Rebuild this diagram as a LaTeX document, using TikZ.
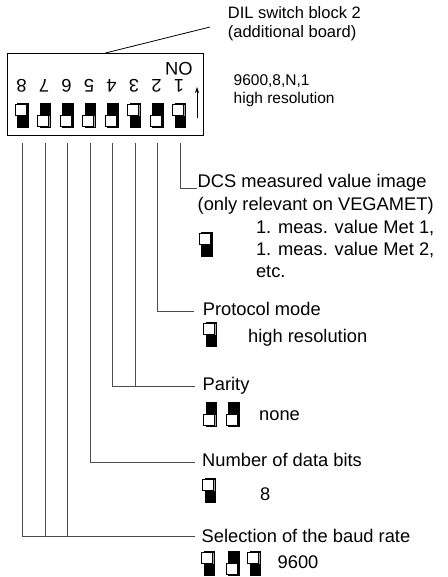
\documentclass[tikz,border=0pt]{standalone}
\usepackage{fontspec}
\setmainfont{Liberation Sans}
\usetikzlibrary{positioning, arrows.meta, calc}

\begin{document}
\begin{tikzpicture}[
    x=1pt, y=-1pt,
    font=\fontsize{18.3}{22}\selectfont,
    >=Stealth,
    % Styles (base west of a multi-line node is the last line)
    textlabel/.style={
        anchor=base west,
        inner sep=0pt,
        align=left
    },
    smalllabel/.style={
        anchor=base west,
        inner sep=0pt,
        align=left,
        font=\fontsize{15.5}{18}\selectfont
    },
    boardlabel/.style={
        anchor=base west,
        inner sep=0pt,
        align=left,
        font=\fontsize{16.5}{19}\selectfont
    },
    flipped/.style={
        rotate=180,
        inner sep=0pt
    },
    leader/.style={
        draw=black!70,
        line width=0.8pt
    },
    dipup/.pic={
        \filldraw[line width=0.6pt] (0,0) rectangle (10.5,24.5);
        \fill[black!35] (-1.2,2.2) rectangle (9.8,13.2);
        \filldraw[fill=white, line width=0.8pt] (-2.2,1.2) rectangle (8.8,12.2);
    },
    dipdown/.pic={
        \filldraw[line width=0.6pt] (0,0) rectangle (10.5,24.5);
        \fill[black!35] (-1.2,13.3) rectangle (9.8,24.3);
        \filldraw[fill=white, line width=0.8pt] (-2.2,12.3) rectangle (8.8,23.3);
    }
]
    \useasboundingbox (0,0) rectangle (447,577);

    % ================= SWITCH BLOCK =================
    \node[draw, line width=1pt, inner sep=0pt, minimum width=196pt, minimum height=82pt,
          anchor=north west] (block) at (7,53) {};

    \node[flipped] (on) at (179,69) {ON};
    \node[flipped] (n8) at (21.5,85.5) {8};
    \node[flipped] (n7) at (44,85.5) {7};
    \node[flipped] (n6) at (66.5,85.5) {6};
    \node[flipped] (n5) at (89,85.5) {5};
    \node[flipped] (n4) at (111.5,85.5) {4};
    \node[flipped] (n3) at (134,85.5) {3};
    \node[flipped] (n2) at (156.5,85.5) {2};
    \node[flipped] (n1) at (179,85.5) {1};

    \pic at (17.5,103) {dipup};
    \pic at (40,103) {dipdown};
    \pic at (62.5,103) {dipdown};
    \pic at (85,103) {dipdown};
    \pic at (107.5,103) {dipdown};
    \pic at (130,103) {dipup};
    \pic at (152.5,103) {dipdown};
    \pic at (175,103) {dipup};

    % direction arrow
    \coordinate (arrowtail) at (197,118);
    \coordinate (arrowtip) at (197,87);
    \draw[->, line width=0.8pt, >={Stealth[length=6pt, width=4pt]}] (arrowtail) -- (arrowtip);

    % ================= BOARD LABEL =================
    \node[boardlabel] (board) at (227.7,37.5) {DIL switch block 2\\(additional board)};
    \coordinate (boardlead) at (210,27);
    \draw[line width=0.8pt] (block.north) -- (boardlead);

    \node[smalllabel] (setting) at (233.5,104) {9600,8,N,1\\high resolution};

    % ================= LEGEND =================
    % DCS measured value image
    \node[textlabel] (dcs) at (197.5,210) {DCS measured value image\\(only relevant on VEGAMET)};
    \pic at (201.5,232) {dipup};
    \node[textlabel] (dcsval) at (255.8,277) {1. meas. value Met 1,\\1. meas. value Met 2,\\etc.};

    % Protocol mode
    \node[textlabel] (protocol) at (202.6,315) {Protocol mode};
    \pic at (206,322) {dipup};
    \node[textlabel] (protocolval) at (248,342) {high resolution};

    % Parity
    \node[textlabel] (parity) at (202.5,390) {Parity};
    \pic at (206,402) {dipdown};
    \pic at (228.5,402) {dipdown};
    \node[textlabel] (parityval) at (259,420) {none};

    % Number of data bits
    \node[textlabel] (databits) at (202,466.7) {Number of data bits};
    \pic at (205,478) {dipup};
    \node[textlabel] (databitsval) at (260,500) {8};

    % Selection of the baud rate
    \node[textlabel] (baud) at (201.5,542.5) {Selection of the baud rate};
    \pic at (204,551) {dipup};
    \pic at (228.5,551) {dipdown};
    \pic at (250,551) {dipup};
    \node[textlabel] (baudval) at (277.5,568) {9600};

    % ================= CONNECTIONS / LEADERS =================
    \coordinate (t1) at (180,143);
    \coordinate (t2) at (157.5,143);
    \coordinate (t3) at (135,143);
    \coordinate (t4) at (112.5,143);
    \coordinate (t5) at (90,143);
    \coordinate (t6) at (67.5,143);
    \coordinate (t7) at (45,143);
    \coordinate (t8) at (22.5,143);

    \coordinate (dcslead) at (197,188.5);
    \coordinate (protocollead) at (194,311);
    \coordinate (paritylead) at (195,386);
    \coordinate (databitslead) at (195,462.7);
    \coordinate (baudlead) at (195,536.7);

    \draw[leader] (t1) |- (dcslead);
    \draw[leader] (t2) |- (protocollead);
    \draw[leader] (t4) |- (paritylead);
    \draw[leader] (t3) -- (t3 |- paritylead);
    \draw[leader] (t5) |- (databitslead);
    \draw[leader] (t8) |- (baudlead);
    \draw[leader] (t7) -- (t7 |- baudlead);
    \draw[leader] (t6) -- (t6 |- baudlead);

\end{tikzpicture}
\end{document}
